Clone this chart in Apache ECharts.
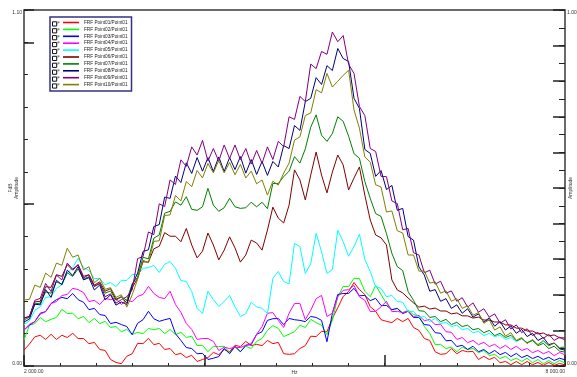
<!DOCTYPE html>
<html>
<head>
<meta charset="utf-8">
<script src="https://cdn.jsdelivr.net/npm/echarts@6/dist/echarts.min.js"></script>
<style>html,body{margin:0;padding:0;background:#fff}#chart{width:577px;height:377px}</style>
</head>
<body>
<div id="chart"></div>
<script>
// frequency grid: one point every 60 Hz
var startHz = 2000, stepHz = 60, xMin = 2000, xMax = 8000;

var names = ['FRF Point01/Point01', 'FRF Point02/Point01', 'FRF Point03/Point01', 'FRF Point04/Point01', 'FRF Point05/Point01',
  'FRF Point06/Point01', 'FRF Point07/Point01', 'FRF Point08/Point01', 'FRF Point09/Point01', 'FRF Point10/Point01'];
var colors = ['#ff0000', '#00ff00', '#0000ff', '#ff00ff', '#00ffff', '#800000', '#008000', '#000080', '#800080', '#808000'];

var red = [4.9,6.8,9.0,9.5,8.2,9.8,8.2,9.5,8.8,10.1, 8.5,8.5,6.9,7.3,5.1,4.8,2.0,1.1,0.7,3.0,
  3.8,7.0,6.9,8.5,6.6,7.0,5.1,5.4,3.5,3.9, 2.6,3.3,1.4,2.0,2.6,4.2,3.5,5.1,4.4,6.4,
  6.0,7.6,6.3,6.7,6.3,7.9,6.9,7.3,3.8,3.6, 3.8,5.4,6.3,9.2,9.1,10.7,10.6,14.7,18.0,21.5,
  23.0,25.8,23.6,22.1,18.3,16.9,14.3,13.8,13.4,14.7, 13.7,14.7,11.9,11.0,8.5,7.9,4.4,3.6,3.8,5.4,
  3.8,4.8,4.4,4.5,2.0,3.0,2.0,2.7,1.0,1.4, 0.4,1.4,0.4,1.4,0.4,1.1,0.2,1.1,0.2,0.8,0.3];
var green = [8.0,12.6,13.1,15.0,13.7,14.4,15.0,17.5,16.2,16.3, 14.6,15.3,13.4,14.7,13.1,13.8,11.9,12.2,10.6,11.3,
  9.7,10.4,10.0,11.6,11.2,11.6,10.0,11.3,9.7,10.4, 8.8,9.2,6.3,6.4,4.4,6.1,6.0,6.1,4.1,5.8,
  4.4,6.1,5.4,7.6,8.5,11.0,12.5,11.6,9.1,9.8, 10.6,12.6,11.9,14.4,13.4,12.6,9.7,14.1,21.4,24.6,
  24.5,27.1,27.0,23.1,21.4,24.9,22.1,19.3,17.4,17.8, 16.5,17.2,15.9,15.6,12.2,10.1,6.6,6.7,5.4,5.8,
  4.4,5.8,5.1,5.4,4.1,4.8,3.2,3.6,2.3,3.0, 1.7,2.4,1.4,2.4,1.0,2.0,0.7,1.7,0.7,1.7,0.9];
var blue = [11.1,12.6,13.7,16.3,16.8,19.3,20.5,21.2,20.8,22.4, 20.5,19.7,17.4,17.8,15.9,15.6,13.1,13.5,12.8,12.2,
  9.7,13.2,14.3,16.9,14.6,13.8,14.3,14.7,10.0,7.9, 5.7,5.4,3.8,3.9,2.0,2.4,2.9,5.4,3.8,6.1,
  4.4,6.4,6.6,9.8,10.6,14.1,14.6,14.7,12.8,14.7, 14.3,14.1,13.7,15.3,15.0,14.1,7.5,16.3,22.1,22.4,
  22.4,24.0,21.7,21.8,20.2,20.9,18.7,18.7,17.4,17.8, 16.2,16.9,15.0,15.0,12.8,12.6,10.3,10.1,7.8,7.9,
  6.0,6.4,5.1,6.1,4.4,5.1,3.8,4.8,3.5,4.2, 2.9,3.9,2.6,3.3,2.3,3.0,2.0,2.7,1.7,2.4,1.9];
var magenta = [11.1,12.9,13.7,16.0,16.8,19.3,19.9,21.8,22.1,24.0, 23.6,22.7,19.9,20.3,19.0,20.9,20.5,20.9,19.0,20.3,
  19.9,21.5,22.1,24.6,22.4,21.2,20.8,23.1,19.0,16.6, 13.1,11.3,8.2,8.5,8.5,7.6,4.8,5.8,5.4,5.8,
  5.7,6.4,6.9,9.8,12.2,16.3,16.5,14.1,11.9,16.3, 19.3,19.3,14.3,17.2,20.8,21.8,15.3,16.3,21.4,23.4,
  23.6,24.9,21.4,20.3,16.8,16.9,18.3,20.0,16.8,16.9, 16.5,16.9,15.3,15.6,14.0,14.4,12.8,12.9,10.6,10.4,
  8.2,8.8,7.2,7.9,6.6,7.3,6.0,6.7,5.4,6.4, 5.1,6.1,4.8,5.4,4.1,4.8,3.8,4.5,3.2,4.2,3.4];
var cyan = [12.7,14.0,17.2,18.3,21.2,21.4,24.0,25.1,28.6,30.4, 33.3,30.4,29.5,27.0,27.1,25.1,25.8,24.5,26.5,26.4,
  28.3,28.2,30.2,30.4,31.1,28.9,31.4,32.3,30.2,26.4, 26.1,23.0,17.8,16.2,23.1,20.5,18.4,19.9,21.8,18.3,
  15.3,16.2,19.7,18.3,17.8,16.2,27.1,29.2,26.1,25.4, 37.9,36.9,28.6,31.6,41.0,35.3,28.6,29.8,41.9,38.4,
  33.9,36.9,40.7,32.9,29.2,24.5,24.0,21.4,21.8,19.9, 19.7,16.8,16.9,15.0,15.3,13.7,14.7,13.1,13.5,12.2,
  12.6,11.2,11.6,10.3,10.7,9.4,10.1,9.1,9.5,8.2, 8.8,7.5,8.5,7.2,7.9,6.6,7.6,6.3,7.0,5.7,5.9];
var brown = [14.8,15.4,19.8,20.0,24.5,24.3,28.2,27.7,31.3,29.6, 31.3,27.7,28.2,25.0,26.0,23.1,23.9,20.6,21.4,19.4,
  24.2,27.1,32.2,32.1,36.2,37.0,41.2,40.1,40.1,38.4, 42.5,37.4,33.4,35.5,41.1,37.4,32.8,35.8,39.9,36.5,
  32.1,34.3,38.9,38.0,35.8,42.0,49.1,45.7,44.2,49.7, 60.6,57.5,51.3,59.0,66.1,59.0,53.5,59.9,65.2,62.1,
  54.4,58.1,61.5,52.8,45.1,40.5,39.6,37.4,26.6,23.5, 22.6,21.0,19.5,18.2,18.5,17.6,17.9,17.0,17.0,16.1,
  16.4,15.5,15.5,14.8,15.1,14.2,14.2,13.6,13.6,12.7, 12.7,11.7,11.7,10.8,10.8,9.9,10.2,9.3,9.6,8.7,8.7];
var darkGreen = [14.2,15.1,19.2,19.4,22.9,22.5,26.0,25.3,28.8,27.7, 30.0,26.8,27.6,24.6,25.4,22.5,23.2,20.3,21.4,20.3,
  25.4,27.4,33.6,33.1,39.5,40.5,47.2,47.8,50.7,49.7, 52.3,48.4,48.1,49.2,54.9,49.7,47.8,48.9,51.8,49.2,
  48.7,48.9,50.6,49.2,50.6,48.6,56.4,56.4,58.5,60.2, 64.7,62.7,67.1,73.8,77.6,71.3,69.4,71.8,77.0,75.6,
  71.0,65.6,64.2,57.0,51.8,47.1,46.2,40.9,34.8,30.7, 29.5,23.0,20.3,17.1,16.9,15.0,15.3,13.7,14.4,12.8,
  13.5,12.2,12.6,11.2,11.6,10.3,11.0,9.4,10.1,8.8, 9.5,7.8,8.5,7.2,7.9,6.3,7.0,5.4,6.1,4.6,4.3];
var navy = [13.6,14.5,19.1,18.9,23.6,21.2,26.5,25.1,29.6,28.0, 30.7,26.6,27.3,23.5,25.0,20.4,22.0,18.8,19.8,19.0,
  25.0,28.7,35.4,35.9,43.1,43.7,52.2,51.8,58.7,56.7, 62.8,59.5,64.4,60.2,64.4,60.1,64.6,60.1,64.4,60.7,
  64.7,59.6,63.8,59.2,63.2,58.9,63.2,61.5,68.1,67.2, 74.3,72.8,81.7,82.7,89.1,87.0,92.8,91.3,98.1,95.0,
  94.1,82.7,79.6,66.9,65.7,58.6,60.4,54.5,55.8,48.1, 48.7,40.0,38.9,30.6,28.1,23.1,23.6,20.0,20.8,17.8,
  18.9,16.3,17.7,15.1,16.1,13.5,14.9,12.3,13.7,11.1, 12.4,10.1,11.3,9.1,10.1,7.9,8.8,6.6,7.1,5.3,4.9];
var purple = [14.8,15.2,20.3,20.9,25.5,23.0,28.1,26.6,31.8,29.9, 31.3,27.2,28.2,24.6,25.6,21.4,22.3,19.4,20.5,21.4,
  23.5,33.2,33.8,41.4,40.6,50.1,49.3,57.5,56.1,63.7, 61.7,67.7,65.2,69.7,63.3,67.2,63.3,68.3,64.1,68.3,
  63.8,67.2,62.4,66.6,62.6,67.7,63.8,69.4,67.8,77.0, 76.2,83.3,81.7,93.3,91.9,97.2,96.3,103.2,100.2,102.1,
  93.2,90.4,80.2,77.4,67.2,66.3,58.6,58.5,51.0,50.2, 42.1,42.5,35.0,34.3,28.8,29.6,25.3,26.2,22.5,23.2,
  20.0,21.1,18.2,19.5,16.6,17.7,15.1,16.1,13.2,14.3, 11.4,12.7,10.3,11.5,9.4,10.4,8.5,9.8,7.9,8.9,8.0];
var olive = [20.4,20.6,25.0,24.3,28.7,27.4,31.8,31.1,36.4,33.6, 34.3,29.7,30.7,25.7,27.1,23.7,24.2,21.2,22.0,18.2,
  22.0,26.8,32.7,31.9,38.5,38.7,46.5,46.7,52.7,51.0, 57.0,55.4,60.4,58.1,62.6,59.7,63.5,59.7,62.9,59.1,
  62.3,58.1,60.2,56.3,57.5,52.8,57.1,55.9,59.6,62.7, 69.8,70.8,77.4,78.2,85.4,84.4,90.4,86.2,88.0,89.8,
  91.4,79.1,73.5,64.6,63.0,56.0,55.3,47.6,47.9,41.8, 41.1,34.3,34.3,29.3,29.4,25.6,26.0,22.5,23.2,20.0,
  20.8,17.8,18.6,15.7,16.5,13.2,14.3,11.1,12.1,9.2, 10.3,7.9,8.8,6.9,8.2,6.6,7.9,6.2,7.1,5.6,5.9];

var allSeries = [red, green, blue, magenta, cyan, brown, darkGreen, navy, purple, olive];
var freqs = red.map(function (_, i) { return startHz + i * stepHz; });

var font = 'Liberation Sans';
var lab = { fontSize: 5, color: '#333', fontFamily: font };

function fmtNum(v) {
  return v.toFixed(2).replace(/\B(?=(\d{3})+(?!\d))/g, ' ');
}

var chart = echarts.init(document.getElementById('chart'));

// legend rows: 6.9 px pitch, first row centred at y = 24
var legendTop = 17, rowH = 6.9, firstRow = 24;
var boxes = [];
names.forEach(function (n, k) {
  var cy = firstRow + k * rowH;
  boxes.push({ type: 'rect', z: 100, shape: { x: 52.5, y: cy - 2.2, width: 4.2, height: 4.2 },
    style: { fill: '#fff', stroke: '#111', lineWidth: 1 } });
  boxes.push({ type: 'text', z: 100, x: 57.6, y: cy - 3.3,
    style: { text: 'F', fontSize: 3.6, fill: '#222', fontFamily: font } });
});

function yBase(extra) {
  return Object.assign({
    type: 'value', min: 0, axisLine: { show: false, onZero: false }, splitLine: { show: false },
    nameMoveOverlap: false
  }, extra);
}

var option = {
  animation: false,
  backgroundColor: '#fff',
  grid: { left: 24, right: 12, top: 10, bottom: 11, containLabel: false, outerBoundsMode: 'none',
    show: true, borderColor: '#3a3a3a', borderWidth: 1.5 },
  legend: {
    orient: 'vertical', left: 50, top: legendTop,
    padding: [firstRow - legendTop - rowH / 2 - 1.5, 4, 3, 13],
    icon: 'rect', itemWidth: 16, itemHeight: 1.6, itemGap: 0,
    backgroundColor: '#fff', borderColor: '#333380', borderWidth: 1.5,
    textStyle: { fontSize: 4.7, lineHeight: rowH, color: '#222', fontFamily: font },
    selectedMode: false, data: names
  },
  xAxis: [
    { type: 'value', min: xMin, max: xMax, interval: 400, position: 'bottom',
      axisLine: { show: false, onZero: false }, splitLine: { show: false },
      axisTick: { inside: true, length: 3, lineStyle: { color: '#222' } },
      axisLabel: Object.assign({}, lab, { margin: 3, align: 'left',
        formatter: function (v) { return v === xMin ? fmtNum(v) : ''; } }) },
    { type: 'value', min: xMin, max: xMax, interval: 2000, position: 'bottom',
      axisLine: { show: false, onZero: false }, splitLine: { show: false },
      axisTick: { inside: true, length: 11, lineStyle: { color: '#222', width: 1.5 } },
      axisLabel: Object.assign({}, lab, { margin: 3, align: 'right',
        formatter: function (v) { return v === xMax ? fmtNum(v) : ''; } }),
      name: 'Hz', nameLocation: 'middle', nameGap: 4, nameMoveOverlap: false, nameTextStyle: lab }
  ],
  yAxis: [
    yBase({ max: 110, interval: 10, position: 'left',
      axisTick: { inside: true, length: 4, lineStyle: { color: '#222' } },
      axisLabel: Object.assign({}, lab, { margin: 2, verticalAlign: 'bottom',
        formatter: function (v) { return v === 0 ? fmtNum(v / 100) : ''; } }) }),
    yBase({ max: 110, interval: 50, position: 'left',
      axisTick: { inside: true, length: 10, lineStyle: { color: '#222', width: 1.5 } },
      axisLabel: Object.assign({}, lab, { margin: 2, verticalAlign: 'top',
        formatter: function (v) { return v === 110 ? fmtNum(v / 100) : ''; } }),
      name: 'FdB\nAmplitude', nameLocation: 'middle', nameRotate: 90, nameGap: 4,
      nameTextStyle: Object.assign({}, lab, { lineHeight: 6 }) }),
    yBase({ max: 20, interval: 1, position: 'right',
      axisTick: { inside: true, length: 6, lineStyle: { color: '#222' } },
      axisLabel: Object.assign({}, lab, { margin: 2, verticalAlign: 'bottom',
        formatter: function (v) { return v === 0 ? fmtNum(v / 20) : ''; } }) }),
    yBase({ max: 20, interval: 2, position: 'right',
      axisTick: { inside: true, length: 12, lineStyle: { color: '#222', width: 1.5 } },
      axisLabel: Object.assign({}, lab, { margin: 2, verticalAlign: 'top',
        formatter: function (v) { return v === 20 ? fmtNum(v / 20) : ''; } }),
      name: 'Amplitude', nameLocation: 'middle', nameRotate: 90, nameGap: 3,
      nameTextStyle: lab })
  ],
  graphic: boxes,
  series: allSeries.map(function (vals, k) {
    return {
      name: names[k], type: 'line', xAxisIndex: 0, yAxisIndex: 0,
      symbol: 'none', color: colors[k],
      lineStyle: { width: 1, color: colors[k] },
      data: vals.map(function (v, i) { return [freqs[i], v]; })
    };
  })
};

chart.setOption(option);
</script>
</body>
</html>
